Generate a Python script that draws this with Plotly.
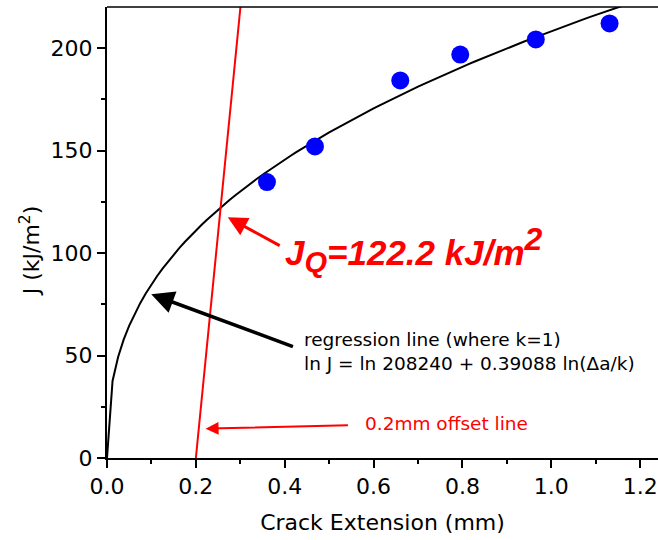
import numpy as np
import plotly.graph_objects as go

# Measured J-R data points
crack_ext = [0.36, 0.468, 0.66, 0.795, 0.965, 1.131]      # mm
j_values = [134.6, 152.0, 184.2, 196.8, 204.2, 212.0]      # kJ/m^2

# Power-law regression: ln J = ln C + n ln(da/k), J in J/m^2
reg_C = 208240.0
reg_n = 0.39088
reg_k = 1.0
offset = 0.2            # mm
jq_value = 122.2        # kJ/m^2

x_ticks = [0.0, 0.2, 0.4, 0.6, 0.8, 1.0, 1.2]
y_ticks = [0, 50, 100, 150, 200]

# Regression curve sampled over the x range
curve_x = np.linspace(0.0, 1.25, 101)
curve_y = np.where(curve_x > 0,
                   np.exp(np.log(reg_C) + reg_n * np.log(np.maximum(curve_x, 1e-12) / reg_k)) / 1000.0,
                   0.0)

# Offset line through (offset, 0) meeting the regression curve at J_Q
da_q = reg_k * (jq_value * 1000.0 / reg_C) ** (1.0 / reg_n)
slope = jq_value / (da_q - offset)
y_top = 220
off_x = [offset, offset + y_top / slope]
off_y = [0, y_top]

FONT = "DejaVu Sans"

fig = go.Figure()
fig.add_trace(go.Scatter(x=curve_x, y=curve_y, mode="lines",
                         line=dict(color="black", width=2), showlegend=False))
fig.add_trace(go.Scatter(x=off_x, y=off_y, mode="lines",
                         line=dict(color="#ff0000", width=2), showlegend=False))
fig.add_trace(go.Scatter(x=crack_ext, y=j_values, mode="markers",
                         marker=dict(color="#0000ff", size=18, line=dict(width=0)),
                         showlegend=False))

fig.update_layout(
    width=658, height=540,
    margin=dict(l=107, r=0, t=7, b=82),
    paper_bgcolor="white", plot_bgcolor="white",
    font=dict(family=FONT, color="black"),
    showlegend=False,
)

fig.update_xaxes(
    range=[0, 1.24], tickvals=x_ticks, ticktext=[f"{v:.1f}" for v in x_ticks],
    showgrid=False, zeroline=False, showline=True, linecolor="black", linewidth=2,
    ticks="outside", ticklen=8, tickwidth=1.5, tickcolor="black",
    minor=dict(ticks="outside", ticklen=4, tickwidth=1.5, tickcolor="black", dtick=0.1, showgrid=False),
    tickfont=dict(family=FONT, size=22),
    title=dict(text="Crack Extension (mm)", font=dict(family=FONT, size=22), standoff=16),
)
fig.update_yaxes(
    range=[0, 220], tickvals=y_ticks,
    showgrid=False, zeroline=False, showline=True, linecolor="black", linewidth=2,
    ticks="outside", ticklen=8, tickwidth=1.5, tickcolor="black",
    minor=dict(ticks="outside", ticklen=4, tickwidth=1.5, tickcolor="black", dtick=25, showgrid=False),
    tickfont=dict(family=FONT, size=22),
)

# Top frame line
fig.add_shape(type="line", xref="paper", yref="paper", x0=0, x1=1, y0=1, y1=1,
              line=dict(color="black", width=1.5))

# Y-axis title
fig.add_annotation(text="J (kJ/m<sup>2</sup>)", xref="paper", yref="paper",
                   x=-(107 - 30) / 551, y=(457.7 - 251) / 451, textangle=-90,
                   showarrow=False, xanchor="center", yanchor="middle",
                   font=dict(family=FONT, size=22, color="black"))

# J_Q label and arrow
fig.add_annotation(x=0.2718, y=117.4, ax=0.392, ay=103.2, axref="x", ayref="y",
                   xref="x", yref="y", text="", showarrow=True,
                   arrowhead=2, arrowsize=1.3, arrowwidth=3, arrowcolor="#ff0000")
fig.add_annotation(
    text=("<b><i>J<sub><span style='font-size:29px'>Q</span></sub>="
          f"{jq_value} kJ/m<sup><span style='font-size:32px'>2</span></sup></i></b>"),
    x=0.395, y=101.5, xref="x", yref="y", xanchor="left", yanchor="middle",
    showarrow=False, font=dict(family="Liberation Sans", size=35, color="#ff0000"))

# Regression arrow and label
fig.add_annotation(x=0.0995, y=79.9, ax=0.4218, ay=54.1, axref="x", ayref="y",
                   xref="x", yref="y", text="", showarrow=True,
                   arrowhead=2, arrowsize=1.3, arrowwidth=3.5, arrowcolor="black")
fig.add_annotation(
    text=("regression line (where k=1)<br>"
          f"ln J = ln {int(reg_C)} + {reg_n} ln(\u0394a/k)"),
    x=0.4392, y=52.0, xref="x", yref="y", xanchor="left", yanchor="middle",
    align="left", showarrow=False, font=dict(family=FONT, size=18.5, color="black"))

# Offset line arrow and label
fig.add_annotation(x=0.2218, y=14.3, ax=0.5456, ay=15.95, axref="x", ayref="y",
                   xref="x", yref="y", text="", showarrow=True,
                   arrowhead=2, arrowsize=1.3, arrowwidth=2, arrowcolor="#ff0000")
fig.add_annotation(text="0.2mm offset line", x=0.577, y=16.7, xref="x", yref="y",
                   xanchor="left", yanchor="middle", showarrow=False,
                   font=dict(family=FONT, size=18.5, color="#ff0000"))

fig.write_html("out.html")
